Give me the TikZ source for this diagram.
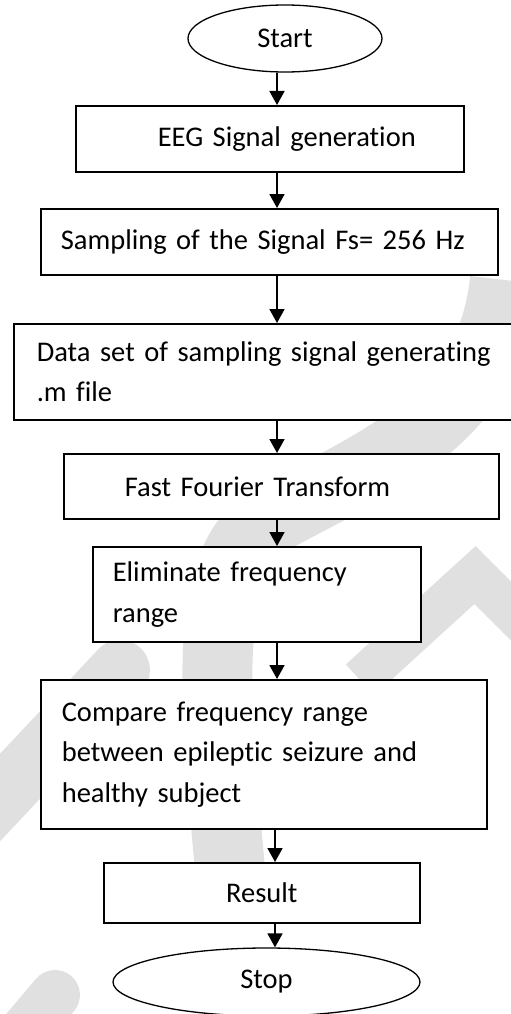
\documentclass[tikz,border=0pt]{standalone}
\usepackage{fontspec}
\setmainfont{Carlito}[Ligatures={NoCommon}]
\usetikzlibrary{shapes.geometric,arrows.meta}

\tikzset{
  stepbox/.style={draw, fill=white, rectangle, line width=1.6pt, anchor=north west,
    inner ysep=0pt, align=left},
  endpoint/.style={draw, fill=white, ellipse, line width=1.3pt, inner sep=0pt},
  flow/.style={line width=1.8pt, -{Triangle[width=15pt,length=14pt]}},
  faint/.style={draw=gray!24, line width=70pt}
}

\begin{document}
\begin{tikzpicture}[x=1pt, y=-1pt, font=\fontsize{28.5}{40.5}\selectfont]
  \useasboundingbox (0,0) rectangle (511,1014);
  % light background marks
  \draw[faint] (505,280) .. controls (490,420) and (380,460) .. (270,520)
    .. controls (200,560) and (215,700) .. (230,870);
  \draw[faint, line width=42pt, miter limit=4] (360,680) -- (475,575) -- (560,660);
  \draw[faint, line width=60pt, line cap=round] (-40,840) -- (120,670);
  \draw[faint, line width=50pt, line cap=round] (55,995) -- (0,1060);

  % arrows run down these two lines
  \coordinate (axis) at (277,0);
  \coordinate (axisb) at (275,0);

  % terminals
  \node[endpoint, minimum width=194pt, minimum height=67pt] (start) at (285,38.5) {Start};
  \node[endpoint, minimum width=307pt, minimum height=68pt] (stop) at (266.5,982) {Stop};

  % process steps
  \node[stepbox, minimum height=66pt, text width=292pt, inner xsep=48pt, align=right]
    (eeg) at (75,105) {EEG Signal generation};
  \node[stepbox, minimum height=66pt, text width=417pt, inner xsep=20pt]
    (smp) at (40,208) {Sampling of the Signal Fs= 256 Hz};
  \node[stepbox, minimum height=96pt, text width=461pt, inner xsep=23pt]
    (dat) at (13,323) {Data set of sampling signal generating\\.m file};
  \node[stepbox, minimum height=65pt, text width=313pt, inner xsep=61pt]
    (fft) at (63,453) {Fast Fourier Transform};
  \node[stepbox, minimum height=95pt, text width=288pt, inner xsep=20pt]
    (elm) at (92,546) {Eliminate frequency\\range};
  \node[stepbox, minimum height=149pt, text width=404pt, inner xsep=21pt]
    (cmp) at (40,679) {Compare frequency range\\between epileptic seizure and\\healthy subject};
  \node[stepbox, minimum height=60pt, text width=316pt, inner xsep=0pt, align=center]
    (res) at (103,862) {Result};

  % connectors
  \draw[flow] (start.south -| axis) -- (eeg.north -| axis);
  \draw[flow] (eeg.south -| axis) -- (smp.north -| axis);
  \draw[flow] (smp.south -| axis) -- (dat.north -| axis);
  \draw[flow] (dat.south -| axis) -- (fft.north -| axis);
  \draw[flow] (fft.south -| axis) -- (elm.north -| axis);
  \draw[flow] (elm.south -| axis) -- (cmp.north -| axis);
  \draw[flow] (cmp.south -| axisb) -- (res.north -| axisb);
  \draw[flow] (res.south -| axisb) -- (stop.north -| axisb);
\end{tikzpicture}
\end{document}
